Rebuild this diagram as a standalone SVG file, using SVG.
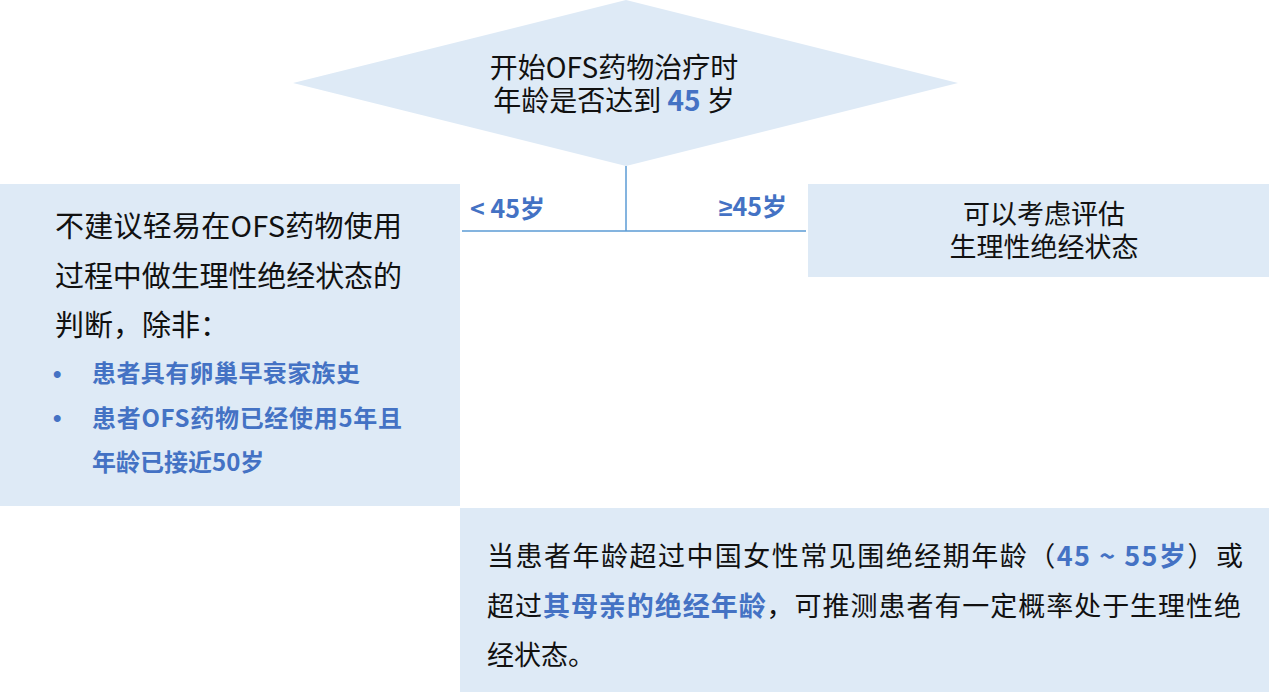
<svg xmlns="http://www.w3.org/2000/svg" width="1269" height="692" viewBox="0 0 1269 692">
<style>
.box{fill:#DEEAF6;stroke:none}
.t{font-family:"Noto Sans CJK SC","Noto Sans",sans-serif;fill:#111}
.b{font-weight:bold;fill:#4472C4}
.ln{stroke:#5B9BD5;stroke-width:1.5;fill:none}
</style>
<rect width="1269" height="692" fill="#fff"/>
<g id="connectors">
<line class="ln" x1="626" y1="166" x2="626" y2="231"/>
<line class="ln" x1="462" y1="231" x2="806" y2="231"/>
<text class="t b" x="470" y="218" font-size="25">&lt; 45岁</text>
<text class="t b" x="787" y="216" font-size="25" text-anchor="end"><tspan font-family="Noto Sans, sans-serif">≥</tspan>45岁</text>
</g>
<g id="decision">
<polygon class="box" points="626,0 958,83 626,166 293,83"/>
<text class="t" font-size="28" text-anchor="middle"><tspan x="614" y="78">开始OFS药物治疗时</tspan><tspan x="614" y="111">年龄是否达到 <tspan class="b">45</tspan> 岁</tspan></text>
</g>
<g id="left-box">
<rect class="box" x="0" y="184" width="460" height="322"/>
<text class="t" x="55" y="237" font-size="29" textLength="347" lengthAdjust="spacing">不建议轻易在OFS药物使用</text>
<text class="t" x="55" y="287" font-size="29" textLength="347" lengthAdjust="spacing">过程中做生理性绝经状态的</text>
<text class="t" x="55" y="336" font-size="29">判断，除非：</text>
<text class="b" x="53" y="382" font-size="24" font-family="Liberation Sans, sans-serif">•</text>
<text class="t b" x="92" y="382" font-size="24" textLength="268" lengthAdjust="spacing">患者具有卵巢早衰家族史</text>
<text class="b" x="53" y="426" font-size="24" font-family="Liberation Sans, sans-serif">•</text>
<text class="t b" x="92" y="427" font-size="24" textLength="310" lengthAdjust="spacing">患者OFS药物已经使用5年且</text>
<text class="t b" x="92" y="471" font-size="24">年龄已接近50岁</text>
</g>
<g id="right-box">
<rect class="box" x="808" y="184" width="461" height="93"/>
<text class="t" font-size="27" text-anchor="middle"><tspan x="1044" y="224">可以考虑评估</tspan><tspan x="1044" y="257">生理性绝经状态</tspan></text>
</g>
<g id="bottom-box">
<rect class="box" x="460" y="508" width="809" height="184"/>
<text class="t" x="487" y="566" font-size="27" textLength="756" lengthAdjust="spacing">当患者年龄超过中国女性常见围绝经期年龄（<tspan class="b">45 ~ 55岁</tspan>）或</text>
<text class="t" x="487" y="616" font-size="27" textLength="754" lengthAdjust="spacing">超过<tspan class="b">其母亲的绝经年龄</tspan>，可推测患者有一定概率处于生理性绝</text>
<text class="t" x="487" y="665" font-size="27">经状态。</text>
</g>
</svg>
